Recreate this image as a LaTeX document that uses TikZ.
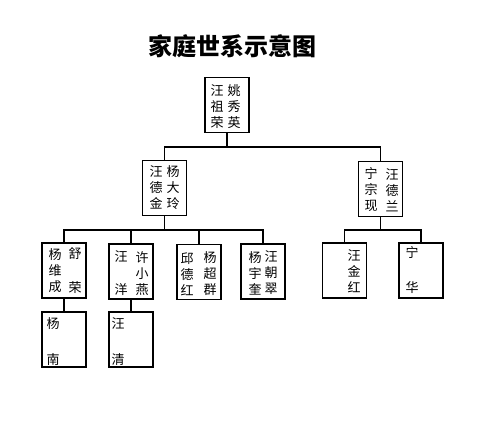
\documentclass[tikz,border=0pt]{standalone}
\usepackage{fontspec}
\newfontfamily\cjk{Noto Sans CJK SC}
\usetikzlibrary{positioning}

\begin{document}
\begin{tikzpicture}[
  x=1pt,y=-1pt,
  box/.style={draw,line width=1.2pt,minimum width=44pt,minimum height=55pt,inner sep=0pt},
  txt/.style={align=center,inner sep=0pt,font=\cjk\fontsize{13}{16}\selectfont},
  ttl/.style={inner sep=0pt,font=\cjk\bfseries\fontsize{24}{26}\selectfont},
  link/.style={line width=1.2pt}
]
\useasboundingbox (0,0) rectangle (501,443);
\node[ttl] (title) at (232.5,46) {家庭世系示意图};
% first generation
\node[box] (zurong) at (227,105) {};
\node[txt] (zurong-l) at (217,106.5) {汪\\祖\\荣};
\node[txt] (zurong-r) at (234,106.5) {姚\\秀\\英};
% second generation
\node[box] (dejin) at (164.5,188) {};
\node[txt] (dejin-l) at (156,187.5) {汪\\德\\金};
\node[txt] (dejin-r) at (173,187.5) {杨\\大\\玲};
\node[box] (zongxian) at (380.5,189) {};
\node[txt] (zongxian-l) at (371,190) {宁\\宗\\现};
\node[txt] (zongxian-r) at (392,190) {汪\\德\\兰};
% third generation
\node[box] (weicheng) at (64,270.5) {};
\node[txt] (weicheng-l) at (55,271) {杨\\维\\成};
\node[txt] (weicheng-r) at (75,271) {舒\\[18pt]荣};
\node[box] (wangyang) at (131,271.5) {};
\node[txt] (wangyang-l) at (121,273.5) {汪\\[17pt]洋};
\node[txt] (wangyang-r) at (142,273.5) {许\\小\\燕};
\node[box] (dehong) at (199,272) {};
\node[txt] (dehong-l) at (187,274) {邱\\德\\红};
\node[txt] (dehong-r) at (210,274) {杨\\超\\群};
\node[box] (yukui) at (263,271.5) {};
\node[txt] (yukui-l) at (255,273) {杨\\宇\\奎};
\node[txt] (yukui-r) at (271,273) {汪\\朝\\翠};
\node[box] (jinhong) at (344.5,270.5) {};
\node[txt] (jinhong-t) at (354,271) {汪\\金\\红};
\node[box] (ninghua) at (421,270.5) {};
\node[txt] (ninghua-t) at (412,270.5) {宁\\[19pt]华};
% fourth generation
\node[box] (yangnan) at (64,339.5) {};
\node[txt] (yangnan-t) at (53,342) {杨\\[20pt]南};
\node[box] (wangqing) at (131,339.5) {};
\node[txt] (wangqing-t) at (118,342) {汪\\[20pt]清};
% connectors
\coordinate (bus1) at (0,147);
\coordinate (bus2) at (0,230);
\draw[link] (zurong.south) -- (zurong.south |- bus1);
\draw[link] (dejin.north) -- (dejin.north |- bus1) -- (zongxian.north |- bus1) -- (zongxian.north);
\draw[link] (dejin.south) -- (dejin.south |- bus2);
\draw[link] (weicheng.north) -- (weicheng.north |- bus2) -- (yukui.north |- bus2) -- (yukui.north);
\draw[link] (wangyang.north) -- (wangyang.north |- bus2);
\draw[link] (dehong.north) -- (dehong.north |- bus2);
\draw[link] (zongxian.south) -- (zongxian.south |- bus2);
\draw[link] (jinhong.north) -- (jinhong.north |- bus2) -- (ninghua.north |- bus2) -- (ninghua.north);
\draw[link] (weicheng.south) -- (yangnan.north);
\draw[link] (wangyang.south) -- (wangqing.north);
\end{tikzpicture}
\end{document}
